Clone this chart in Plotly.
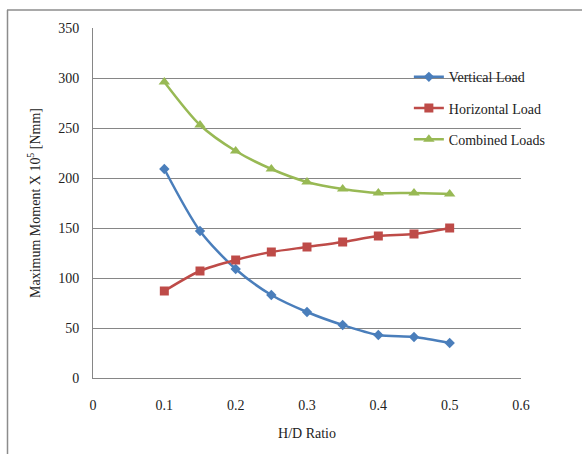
import plotly.graph_objects as go

hd_ratio = [0.1, 0.15, 0.2, 0.25, 0.3, 0.35, 0.4, 0.45, 0.5]
vertical_load = [209, 147, 109, 83, 66, 53, 43, 41, 35]
horizontal_load = [87, 107, 118, 126, 131, 136, 142, 144, 150]
combined_loads = [296, 253, 227, 209, 196, 189, 185, 185, 184]

x_ticks = [0, 0.1, 0.2, 0.3, 0.4, 0.5, 0.6]
x_tick_text = ["0", "0.1", "0.2", "0.3", "0.4", "0.5", "0.6"]
y_ticks = [0, 50, 100, 150, 200, 250, 300, 350]

FONT = "Liberation Serif"

series = [
    ("Vertical Load", vertical_load, "#4a7ebb", "diamond", 8),
    ("Horizontal Load", horizontal_load, "#be4b48", "square", 9),
    ("Combined Loads", combined_loads, "#98b954", "triangle-up", 10),
]

fig = go.Figure()
for name, values, color, symbol, size in series:
    fig.add_trace(go.Scatter(
        x=hd_ratio, y=values, name=name, mode="lines+markers",
        legendgroup=name,
        line=dict(color=color, width=2.5, shape="spline", smoothing=0.8),
        marker=dict(color=color, symbol=symbol, size=size),
    ))

# Plot area: left edge 93 px, width 428 px; top 28 px, height 350 px
ml, mt, pw, ph = 93, 28, 428, 350

def px_x(p):
    return (p - ml) / pw

def px_y(p):
    return (mt + ph - p) / ph

# Outer chart frame (left and top edges within the page)
frame = dict(color="#8c8c8c", width=1.5)
fig.add_shape(type="line", xref="paper", yref="paper", layer="above",
              x0=px_x(7.5), x1=px_x(7.5), y0=px_y(10), y1=px_y(460), line=frame)
fig.add_shape(type="line", xref="paper", yref="paper", layer="above",
              x0=px_x(7), x1=px_x(582), y0=px_y(10), y1=px_y(10), line=frame)

fig.update_layout(
    width=583, height=454,
    margin=dict(l=ml, r=583 - ml - pw, t=mt, b=454 - mt - ph),
    paper_bgcolor="white", plot_bgcolor="white",
    font=dict(family=FONT, size=14, color="#222222"),
    showlegend=True,
    legend=dict(
        x=0.738, y=0.905, xanchor="left", yanchor="top",
        bgcolor="rgba(0,0,0,0)", font=dict(family=FONT, size=14, color="#222222"),
        tracegroupgap=10, itemwidth=30,
    ),
    xaxis=dict(
        range=[0, 0.6], tickvals=x_ticks, ticktext=x_tick_text,
        showgrid=False, zeroline=False,
        showline=True, linecolor="#868686", linewidth=1,
        ticks="", ticklabelstandoff=14,
        tickfont=dict(family=FONT, size=14, color="#222222"),
        title=dict(text="H/D Ratio", font=dict(family=FONT, size=14, color="#222222"), standoff=16),
    ),
    yaxis=dict(
        range=[0, 350], tickvals=y_ticks,
        showgrid=True, gridcolor="#868686", gridwidth=1,
        zeroline=False, showline=True, linecolor="#868686", linewidth=1,
        ticks="", ticklabelstandoff=10,
        tickfont=dict(family=FONT, size=14, color="#222222"),
        title=dict(text="Maximum Moment X 10<sup>5</sup> [Nmm]",
                   font=dict(family=FONT, size=14, color="#222222"), standoff=14),
    ),
)

fig.write_html("out.html")
